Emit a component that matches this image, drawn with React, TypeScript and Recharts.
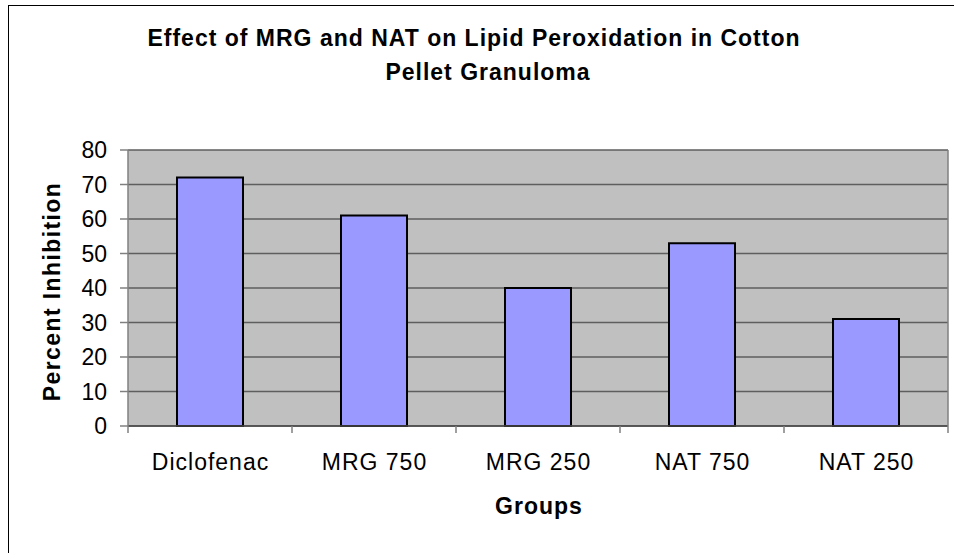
import React from "react";
import { BarChart, Bar, XAxis, YAxis, CartesianGrid } from "recharts";

const categories = ["Diclofenac", "MRG 750", "MRG 250", "NAT 750", "NAT 250"];
const percentInhibition = [72, 61, 40, 53, 31];
const yTicks = [0, 10, 20, 30, 40, 50, 60, 70, 80];
const titleLines = ["Effect of MRG and NAT on Lipid Peroxidation in Cotton", "Pellet Granuloma"];
const xTitle = "Groups";
const yTitle = "Percent Inhibition";

const data = categories.map((name, i) => ({ name, value: percentInhibition[i] }));

const W = 946;
const H = 548;
const PLOT_W = 820;
const FONT = "'Liberation Sans', Arial, sans-serif";

const XTick = (props: any) => {
  const { x, y, payload, index } = props;
  const band = PLOT_W / categories.length;
  const left = x - band / 2;
  const right = x + band / 2;
  return (
    <g>
      <line x1={left} y1={y} x2={left} y2={y + 7} stroke="#808080" strokeWidth={1.5} />
      {index === categories.length - 1 && (
        <line x1={right} y1={y} x2={right} y2={y + 7} stroke="#808080" strokeWidth={1.5} />
      )}
      <text
        x={x + 0.5}
        y={y + 44}
        textAnchor="middle"
        fontSize={23}
        letterSpacing={1}
        fill="#000"
        fontFamily={FONT}
      >
        {payload.value}
      </text>
    </g>
  );
};

export default function App() {
  return (
    <div style={{ position: "absolute", left: 8, top: 5, width: W, height: H }}>
      <BarChart
        width={W}
        height={H}
        data={data}
        margin={{ top: 145, right: 0, left: 0, bottom: 67 }}
      >
        <CartesianGrid
          yAxisId="left"
          vertical={false}
          fill="#C0C0C0"
          stroke="#5E5E5E"
          strokeWidth={1.5}
          fillOpacity={1}
        />
        <XAxis
          dataKey="name"
          height={60}
          tickSize={0}
          tickMargin={0}
          tickLine={false}
          axisLine={{ stroke: "#4A4A4A", strokeWidth: 1.5 }}
          tick={<XTick />}
          interval={0}
        />
        <YAxis
          yAxisId="left"
          width={120}
          domain={[0, 80]}
          ticks={yTicks}
          tickSize={8}
          tickMargin={13}
          tickLine={{ stroke: "#808080", strokeWidth: 1.5 }}
          axisLine={{ stroke: "#808080", strokeWidth: 1.5 }}
          tick={{ fontSize: 23, fill: "#000", fontFamily: FONT }}
          interval={0}
        />
        <YAxis
          yAxisId="right"
          orientation="right"
          width={6}
          domain={[0, 80]}
          tick={false}
          tickLine={false}
          axisLine={{ stroke: "#808080", strokeWidth: 1.5 }}
        />
        <Bar
          yAxisId="left"
          dataKey="value"
          fill="#9999FF"
          stroke="#000"
          strokeWidth={2}
          barSize={66}
          isAnimationActive={false}
        />
      </BarChart>
      <svg
        width={W}
        height={H}
        style={{ position: "absolute", left: 0, top: 0, pointerEvents: "none" }}
      >
        <text x={466} y={41} textAnchor="middle" fontSize={23} letterSpacing={1} fontWeight="bold" fontFamily={FONT} fill="#000">
          {titleLines[0]}
        </text>
        <text x={480} y={75} textAnchor="middle" fontSize={23} letterSpacing={1} fontWeight="bold" fontFamily={FONT} fill="#000">
          {titleLines[1]}
        </text>
        <text x={531} y={509} textAnchor="middle" fontSize={23} letterSpacing={1} fontWeight="bold" fontFamily={FONT} fill="#000">
          {xTitle}
        </text>
        <text
          x={0}
          y={0}
          transform="translate(44,286.5) rotate(-90)"
          textAnchor="middle"
          dominantBaseline="central"
          fontSize={23}
          letterSpacing={1.4}
          fontWeight="bold"
          fontFamily={FONT}
          fill="#000"
        >
          {yTitle}
        </text>
      </svg>
      <div
        style={{
          position: "absolute",
          left: 0,
          top: 0,
          width: W,
          height: H,
          borderLeft: "1px solid #000",
          borderTop: "1px solid #000",
          boxSizing: "border-box",
          pointerEvents: "none",
        }}
      />
    </div>
  );
}
